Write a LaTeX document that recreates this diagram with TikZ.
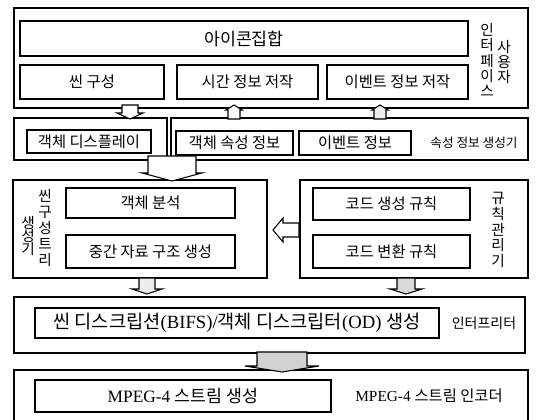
\documentclass[tikz,border=0pt]{standalone}
\usepackage{fontspec}
\setmainfont{Liberation Serif}
\newfontfamily\kr{Noto Sans CJK KR}
\usetikzlibrary{fit}
\newcommand\myfs[1]{\fontsize{#1}{#1}\selectfont}
\tikzset{
  outerbox/.style={draw, line width=0.9pt, inner sep=0pt},
  innerbox/.style={draw, line width=0.8pt, inner sep=0pt},
  btxt/.style={font=\kr\myfs{11.5pt}},
  vtxt/.style={font=\kr\fontsize{11pt}{11.3pt}\selectfont, align=center, inner sep=0pt},
  lbl/.style={font=\kr\myfs{9.5pt}, inner sep=0pt},
  arrowline/.style={draw, line width=0.8pt, line join=miter},
  pics/barrow/.style n args={4}{code={
    \path[arrowline,pic actions] (-#1,0) -- (#1,0) -- (#1,{#3-#4}) -- (#2,{#3-#4}) -- (0,#3) -- (-#2,{#3-#4}) -- (-#1,{#3-#4}) -- cycle;
  }}
}
% box macro: name, x1, y1, x2, y2, style
\newcommand\mkbox[6]{%
  \coordinate (#1-nw) at (#2,#3);
  \coordinate (#1-se) at (#4,#5);
  \node[#6, fit=(#1-nw)(#1-se)] (#1) {};
}
\begin{document}
\begin{tikzpicture}[x=0.75pt,y=-0.75pt]
\useasboundingbox[fill=white] (0,0) rectangle (536,420);

% ---------- row 1: user interface ----------
\mkbox{ui}{14}{8}{528}{108}{outerbox}
\mkbox{icons}{20}{21}{468}{56}{innerbox}
\node[font=\kr\myfs{13pt}] at (icons.center) {아이콘집합};
\mkbox{scene}{20}{65}{164}{99}{innerbox}
\node[btxt] at (scene.center) {씬 구성};
\mkbox{timeauth}{177}{65}{318}{99}{innerbox}
\node[btxt] at (timeauth.center) {시간 정보 저작};
\mkbox{evauth}{327}{65}{468}{99}{innerbox}
\node[btxt] at (evauth.center) {이벤트 정보 저작};
\node[vtxt] (uiA) at (487,60) {인\\터\\페\\이\\스};
\node[vtxt] (uiB) at (504,62) {사\\용\\자};

% ---------- row 2 ----------
\mkbox{dispouter}{14}{118}{167}{160}{outerbox}
\mkbox{disp}{27}{130}{151}{153}{innerbox}
\node[btxt] at (disp.center) {객체 디스플레이};
\mkbox{attrouter}{171}{118}{528}{160}{outerbox}
\mkbox{objattr}{176}{131}{293}{155}{innerbox}
\node[btxt] at (objattr.center) {객체 속성 정보};
\mkbox{evinfo}{299}{131}{411}{155}{innerbox}
\node[btxt] at (evinfo.center) {이벤트 정보};
\node[lbl] (attrlbl) at (474,143) {속성 정보 생성기};

% ---------- row 3 ----------
\mkbox{treeouter}{13}{180}{267}{278}{outerbox}
\mkbox{analysis}{66}{188}{235}{218}{innerbox}
\node[btxt] at (analysis.center) {객체 분석};
\mkbox{midgen}{66}{235}{235}{268}{innerbox}
\node[btxt] at (midgen.center) {중간 자료 구조 생성};
\node[vtxt, font=\kr\fontsize{11pt}{12pt}\selectfont] (treeA) at (45,228) {씬\\구\\성\\트\\리};
\node[vtxt, font=\kr\fontsize{11pt}{10pt}\selectfont] (treeB) at (28,236) {생\\성\\기};
\mkbox{ruleouter}{300}{180}{528}{278}{outerbox}
\mkbox{codegen}{313}{188}{470}{220}{innerbox}
\node[btxt] at (codegen.center) {코드 생성 규칙};
\mkbox{codeconv}{313}{235}{470}{268}{innerbox}
\node[btxt] at (codeconv.center) {코드 변환 규칙};
\node[vtxt, font=\kr\fontsize{11pt}{11.8pt}\selectfont] (rulelbl) at (498,230) {규\\칙\\관\\리\\기};

% ---------- row 4 ----------
\mkbox{interpouter}{14}{297}{525}{353}{outerbox}
\mkbox{bifs}{35}{308}{439}{338}{innerbox}
\node[font=\myfs{14pt}] at (bifs.center) {{\kr 씬 디스크립션}(BIFS)/{\kr 객체 디스크립터}(OD) {\kr 생성}};
\node[font=\kr\myfs{10.5pt}, inner sep=0pt] (interplbl) at (484,323) {인터프리터};

% ---------- row 5 ----------
\mkbox{encouter}{14}{370}{528}{425}{outerbox}
\mkbox{mpeg}{35}{380}{331}{412}{innerbox}
\node[font=\myfs{13pt}] at (mpeg.center) {MPEG-4 {\kr 스트림 생성}};
\node[font=\myfs{11.5pt}, inner sep=0pt] (enclbl) at (429,396) {MPEG-4 {\kr 스트림 인코더}};

% ---------- block arrows ----------
\pic[fill=white] at (130,105) {barrow={8}{13}{14}{6}};
\pic[fill=white, rotate=180] at (234,119) {barrow={6}{8}{14}{5}};
\pic[fill=gray!15, rotate=180] at (380,119) {barrow={6}{8}{14}{5}};
\pic[fill=white] at (172,156) {barrow={24}{30}{25}{8}};
\pic[fill=white, rotate=-90] at (299,230) {barrow={7}{12}{26}{10}};
\pic[fill=gray!15] at (147,278) {barrow={8}{15}{16}{5}};
\pic[fill=gray!30] at (406,278) {barrow={9}{16}{16}{5}};
\pic[fill=gray!35] at (282,352) {barrow={25}{37}{20}{6}};
\end{tikzpicture}
\end{document}
